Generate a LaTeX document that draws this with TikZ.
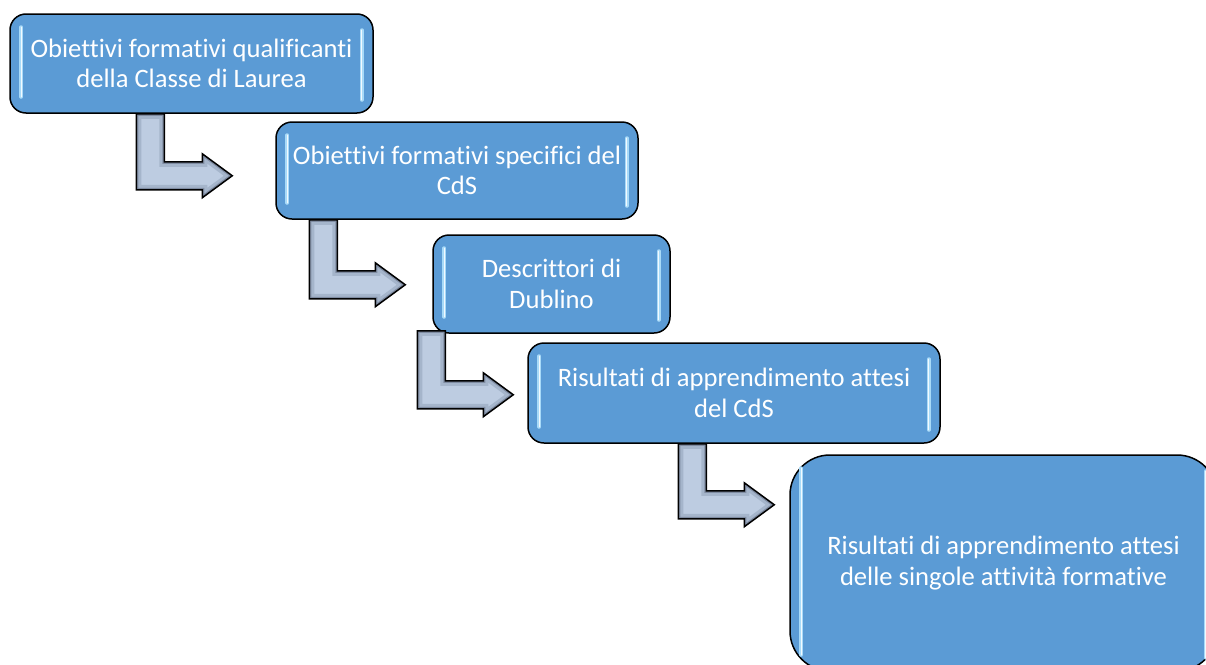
\documentclass[tikz,border=0pt]{standalone}
\usepackage{fontspec}
\setmainfont[Ligatures={NoCommon}]{Carlito}
\usepackage{tikz}
\definecolor{boxblue}{HTML}{5B9BD5}
\definecolor{barblue}{HTML}{A8DAF8}
\definecolor{arrowface}{HTML}{BDCCE1}
\definecolor{arrowmid}{HTML}{A5B5CB}
\definecolor{arrowdark}{HTML}{7F8CA2}
\newcommand{\bentpath}[2]{(#1) -- ++(28,0) -- ++(0,#2) -- ++(38,0) -- ++(0,-8) -- ++(30,22) -- ++(-30,22) -- ++(0,-8) -- ++(-66,0) -- cycle}
\newcommand{\glowbars}[1]{%
  \draw[glowbar] ([xshift=12pt,yshift=-14pt]#1.north west) -- ([xshift=12pt,yshift=17pt]#1.south west);
  \draw[glowbar] ([xshift=-12pt,yshift=-17pt]#1.north east) -- ([xshift=-12pt,yshift=14pt]#1.south east);}

\begin{document}
\begin{tikzpicture}[x=1pt,y=-1pt,
    stepbox/.style={draw=black, line width=1.5pt, fill=boxblue, rounded corners=16pt, text=white, align=center, inner sep=0pt, font=\fontsize{26.6}{30.5}\selectfont},
    glowbar/.style={draw=barblue, line width=1.4pt, double=white!85!barblue, double distance=1.2pt, line cap=round}]
            \useasboundingbox (0,0) rectangle (1206,664);
            \clip (0,0) rectangle (1206,664);
            \node[stepbox, minimum width=363pt, minimum height=99pt] (obclasse) at (191.5,63.5) {Obiettivi formativi qualificanti\\della Classe di Laurea};
            \node[stepbox, minimum width=362pt, minimum height=97pt] (obcds) at (457,170.5) {Obiettivi formativi specifici del\\CdS};
            \node[stepbox, minimum width=237pt, minimum height=98pt] (dublino) at (551.5,284) {Descrittori di\\Dublino};
            \node[stepbox, minimum width=412pt, minimum height=100pt] (riscds) at (734,393) {Risultati di apprendimento attesi\\del CdS};
            \node[stepbox, rounded corners=40pt, minimum width=427pt, minimum height=216pt] (rissingole) at (1003.5,563) {Risultati di apprendimento attesi\\delle singole attività formative};
            \foreach \b in {obclasse, obcds, dublino, riscds, rissingole}
            \glowbars{\b}
            \coordinate (a1) at ([xshift=127pt]obclasse.south west);
            \coordinate (a2) at ([xshift=34pt]obcds.south west);
            \coordinate (a3) at ([xshift=-15pt,yshift=3pt]dublino.south west);
            \coordinate (a4) at ([xshift=151pt]riscds.south west);
            \foreach \s/\d in {a1/48, a2/51, a3/50, a4/47}{
            \begin{scope}
            \clip \bentpath{\s}{\d};
            \fill[arrowface] \bentpath{\s}{\d};
            \draw[arrowmid, line width=10pt] \bentpath{\s}{\d};
            \draw[arrowdark, line width=4pt] \bentpath{\s}{\d};
            \end{scope}
            \draw[black, line width=1.5pt, line join=miter] \bentpath{\s}{\d};
            }
        \end{tikzpicture}
\end{document}
